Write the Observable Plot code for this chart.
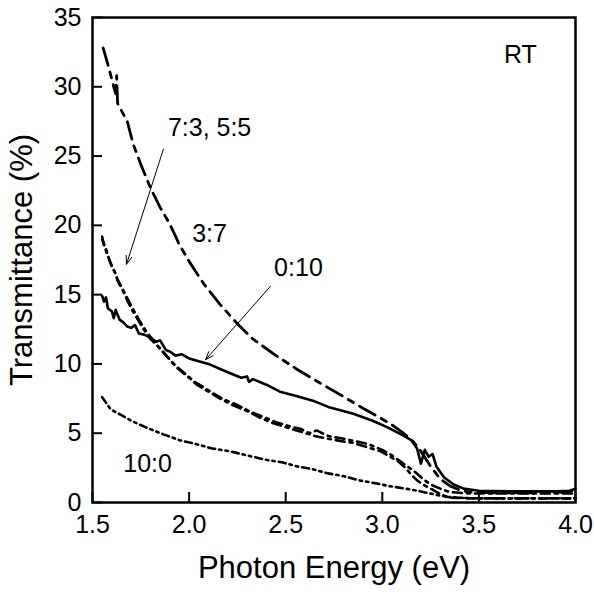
<!DOCTYPE html>
<html>
<head>
<meta charset="utf-8">
<script src="https://cdn.jsdelivr.net/npm/d3@7"></script>
<script src="https://cdn.jsdelivr.net/npm/@observablehq/plot@0.6"></script>
<style>
  body { margin: 0; background: #fff; }
  svg { font-family: "Liberation Sans", Arial, sans-serif; }
</style>
</head>
<body>
<div id="chart"></div>
<script>
// Tick values
const xTicks = [1.5, 2.0, 2.5, 3.0, 3.5, 4.0];
const yTicks = [0, 5, 10, 15, 20, 25, 30, 35];

// Series 3:7 (long dash)
const e37 = [1.555,1.58,1.61,1.62,1.625,1.63,1.68,1.71,1.75,1.80,1.85,1.90,1.95,2.00,2.08,2.16,2.25,2.33,2.45,2.56,2.68,2.78,2.90,2.99,3.05,3.11,3.16,3.20,3.25,3.30,3.35,3.40,3.45,3.60,3.80,3.95,4.00];
const t37 = [32.8,31.6,30.0,29.5,30.8,28.8,27.5,25.9,24.4,22.7,21.3,20.1,18.6,17.4,15.7,14.3,12.9,11.8,10.6,9.6,8.6,7.8,6.8,6.1,5.6,5.0,4.4,3.7,2.6,1.7,1.2,0.9,0.75,0.7,0.7,0.75,0.9];

// Series 0:10 (solid)
const e010 = [1.55,1.56,1.57,1.58,1.60,1.61,1.62,1.64,1.66,1.68,1.70,1.72,1.74,1.77,1.80,1.83,1.85,1.88,1.90,1.93,1.96,2.00,2.10,2.20,2.27,2.30,2.31,2.33,2.40,2.47,2.55,2.65,2.72,2.85,2.95,3.03,3.10,3.15,3.18,3.20,3.22,3.24,3.26,3.28,3.32,3.37,3.42,3.50,3.70,3.90,3.97,4.00];
const t010 = [14.9,14.5,14.8,14.0,13.8,13.3,13.9,13.2,13.0,12.7,12.6,12.8,12.2,12.1,11.9,11.6,11.7,11.0,10.9,10.6,10.7,10.4,10.0,9.4,9.0,9.1,8.7,8.9,8.5,8.0,7.7,7.3,6.9,6.4,5.9,5.4,4.9,4.5,3.9,2.8,3.8,3.3,3.5,2.6,1.8,1.3,1.0,0.85,0.8,0.8,0.85,1.0];

// Series 7:3 (dash-dot)
const e73 = [1.55,1.56,1.58,1.60,1.62,1.63,1.66,1.70,1.73,1.76,1.80,1.85,1.90,1.94,2.00,2.04,2.10,2.16,2.23,2.30,2.37,2.44,2.51,2.58,2.65,2.72,2.80,2.85,2.92,2.99,3.04,3.08,3.12,3.15,3.18,3.21,3.25,3.30,3.35,3.50,4.00];
const t73 = [19.2,18.5,17.8,17.0,16.5,16.0,15.2,14.0,13.3,12.6,11.8,11.1,10.3,9.7,9.0,8.5,8.0,7.5,7.0,6.6,6.1,5.7,5.4,5.1,4.8,4.6,4.4,4.3,4.0,3.7,3.3,3.0,2.5,2.0,1.6,1.3,1.0,0.6,0.35,0.3,0.3];

// Series 5:5 (dotted)
const e55 = [1.55,1.57,1.59,1.61,1.63,1.66,1.70,1.74,1.78,1.82,1.87,1.92,1.97,2.03,2.10,2.17,2.24,2.31,2.38,2.45,2.52,2.58,2.62,2.66,2.72,2.80,2.87,2.93,3.00,3.05,3.09,3.13,3.17,3.21,3.25,3.30,3.35,3.45,3.60,4.00];
const t55 = [19.0,18.3,17.4,16.8,16.1,15.3,14.2,13.2,12.3,11.6,10.8,10.0,9.4,8.7,8.1,7.5,7.1,6.6,6.2,5.8,5.5,5.3,5.0,5.2,4.8,4.6,4.4,4.2,3.8,3.4,3.0,2.6,2.2,1.7,1.3,1.0,0.75,0.65,0.65,0.65];

// Series 10:0 (dash-dot-dot)
const e100 = [1.55,1.57,1.59,1.61,1.65,1.70,1.78,1.87,1.95,2.04,2.12,2.21,2.30,2.39,2.48,2.56,2.64,2.72,2.80,2.88,2.96,3.03,3.12,3.20,3.28,3.34,3.45,4.00];
const t100 = [7.6,7.2,6.8,6.6,6.3,5.9,5.4,4.9,4.5,4.2,3.9,3.7,3.4,3.1,2.9,2.6,2.4,2.1,1.9,1.6,1.4,1.2,1.0,0.8,0.55,0.4,0.3,0.3];

// Annotations
const labels = ["7:3, 5:5", "3:7", "0:10", "10:0", "RT"];
const labelX = [2.106, 2.106, 2.566, 1.785, 3.715];
const labelY = [27.0, 19.4, 16.9, 2.8, 32.3];
const arrowX1 = [1.867, 2.421];
const arrowY1 = [25.5, 15.6];
const arrowX2 = [1.676, 2.085];
const arrowY2 = [17.2, 10.3];

const toRows = (xs, ys) => xs.map((x, i) => ({x, y: ys[i]}));
const labelRows = labels.map((t, i) => ({t, x: labelX[i], y: labelY[i]}));
const arrowRows = arrowX1.map((x1, i) => ({x1, y1: arrowY1[i], x2: arrowX2[i], y2: arrowY2[i]}));

const W = 594, H = 592, mL = 92, mR = 19, mT = 17, mB = 90;
const fw = W - mL - mR, fh = H - mT - mB;

const chart = Plot.plot({
  width: W,
  height: H,
  marginLeft: mL,
  marginRight: mR,
  marginTop: mT,
  marginBottom: mB,
  style: {fontFamily: "'Liberation Sans', Arial, sans-serif", fontSize: "25px", color: "#000", background: "#fff"},
  x: {domain: [1.5, 4.0]},
  y: {domain: [0, 35]},
  marks: [
    Plot.line(toRows(e100, t100), {x: "x", y: "y", stroke: "#000", strokeWidth: 2.6, strokeDasharray: "7,4,2.5,4,2.5,4"}),
    Plot.line(toRows(e55, t55), {x: "x", y: "y", stroke: "#000", strokeWidth: 2.6, strokeDasharray: "9,5,3,5", strokeDashoffset: 3}),
    Plot.line(toRows(e73, t73), {x: "x", y: "y", stroke: "#000", strokeWidth: 2.6, strokeDasharray: "9,5,3,5"}),
    Plot.line(toRows(e37, t37), {x: "x", y: "y", stroke: "#000", strokeWidth: 2.8, strokeDasharray: "18,7,6,7"}),
    Plot.line(toRows(e010, t010), {x: "x", y: "y", stroke: "#000", strokeWidth: 2.6}),
    Plot.arrow(arrowRows, {x1: "x1", y1: "y1", x2: "x2", y2: "y2", stroke: "#000", strokeWidth: 1, headLength: 13, headAngle: 40}),
    Plot.text(labelRows, {x: "x", y: "y", text: "t", fontSize: 25, fill: "#000"}),
    Plot.tickX(xTicks, {x: d => d, insetTop: fh - 10, stroke: "#000", strokeWidth: 2}),
    Plot.tickY(yTicks, {y: d => d, insetRight: fw - 10, stroke: "#000", strokeWidth: 2}),
    Plot.axisX({ticks: xTicks, tickSize: 0, tickPadding: 13, tickFormat: d3.format(".1f"), label: null}),
    Plot.axisY({ticks: yTicks, tickSize: 0, tickPadding: 11, label: null}),
    Plot.frame({stroke: "#000", strokeWidth: 2.5}),
    Plot.text(["Photon Energy (eV)"], {frameAnchor: "bottom", dy: 66, lineAnchor: "middle", textAnchor: "middle", fontSize: 31, fill: "#000"}),
    Plot.text(["Transmittance (%)"], {frameAnchor: "left", dx: -70, rotate: -90, textAnchor: "middle", lineAnchor: "middle", fontSize: 31, fill: "#000"})
  ]
});
document.getElementById("chart").appendChild(chart);
</script>
</body>
</html>
